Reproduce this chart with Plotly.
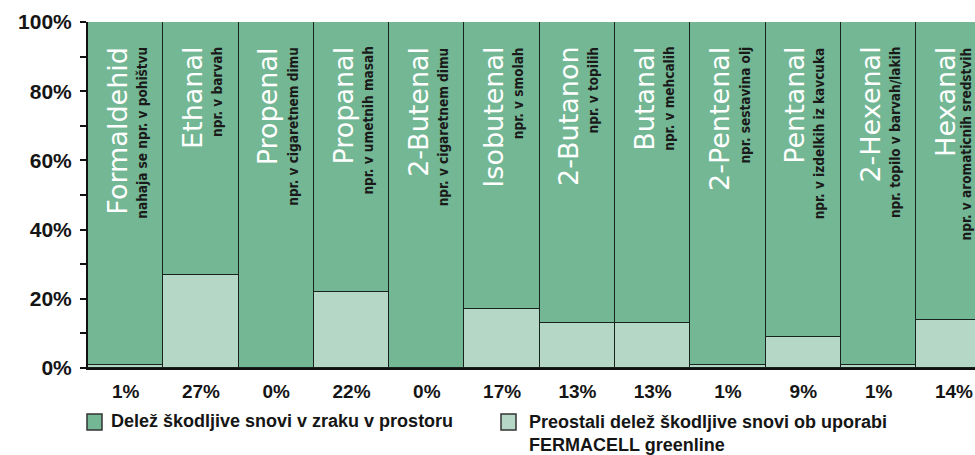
import plotly.graph_objects as go

# ---- data ----
names = ["Formaldehid", "Ethanal", "Propenal", "Propanal", "2-Butenal", "Isobutenal",
         "2-Butanon", "Butanal", "2-Pentenal", "Pentanal", "2-Hexenal", "Hexanal"]
examples = ["nahaja se npr. v pohištvu", "npr. v barvah", "npr. v cigaretnem dimu",
            "npr. v umetnih masah", "npr. v cigaretnem dimu", "npr. v smolah",
            "npr. v topilih", "npr. v mehcalih", "npr. sestavina olj",
            "npr. v izdelkih iz kavcuka", "npr. topilo v barvah/lakih",
            "npr. v aromaticnih sredstvih"]
remaining = [1, 27, 0, 22, 0, 17, 13, 13, 1, 9, 1, 14]
share = [100 - v for v in remaining]
tick_labels = [f"{v}%" for v in remaining]
legend_dark = "Delež škodljive snovi v zraku v prostoru"
legend_light = "Preostali delež škodljive snovi ob uporabi<br>FERMACELL greenline"

DARK = "#73b794"
LIGHT = "#b5d7c6"
EDGE = "#17231c"

W, H = 975, 455
L, R, T, B = 88, 0, 22, 87
PW, PH = W - L - R, H - T - B

def px(x):
    return (x - L) / PW

def py(y):
    return (H - B - y) / PH

xs = list(range(len(names)))

fig = go.Figure()
fig.add_trace(go.Bar(x=xs, y=remaining, marker=dict(color=LIGHT, line=dict(color=EDGE, width=1.5)),
                     name="light", showlegend=False))
fig.add_trace(go.Bar(x=xs, y=share, marker=dict(color=DARK, line=dict(color=EDGE, width=1.5)),
                     name="dark", showlegend=False))

annotations = []
ytop = (H - B - 45) / PH * 100
for i, (n, e) in enumerate(zip(names, examples)):
    annotations.append(dict(x=i, y=ytop, xref="x", yref="y", text=n, textangle=-90,
                            showarrow=False, xanchor="center", yanchor="top", xshift=-9,
                            font=dict(family="DejaVu Sans", size=27, color="white")))
    annotations.append(dict(x=i, y=ytop, xref="x", yref="y", text=e, textangle=-90,
                            showarrow=False, xanchor="center", yanchor="top",
                            xshift=16 if i < len(names) - 1 else 12,
                            font=dict(family="DejaVu Sans Condensed, DejaVu Sans", size=13.5,
                                      color="#1a1a1a", weight="bold")))

LEGFONT = dict(family="Liberation Sans, Arial", size=18, color="#151515", weight="bold")
annotations.append(dict(x=px(109), y=py(421), xref="paper", yref="paper", text=legend_dark,
                        showarrow=False, xanchor="left", yanchor="middle", font=LEGFONT))
annotations.append(dict(x=px(527), y=py(410), xref="paper", yref="paper", text=legend_light,
                        showarrow=False, xanchor="left", yanchor="top", align="left", font=LEGFONT))

shapes = [
    dict(type="rect", xref="paper", yref="paper", x0=px(87), x1=px(102), y0=py(430), y1=py(414),
         fillcolor=DARK, line=dict(color="#333", width=1.5)),
    dict(type="rect", xref="paper", yref="paper", x0=px(501), x1=px(516), y0=py(430), y1=py(414),
         fillcolor=LIGHT, line=dict(color="#333", width=1.5)),
]

fig.update_layout(
    width=W, height=H, margin=dict(l=L, r=R, t=T, b=B),
    barmode="stack", bargap=0,
    plot_bgcolor="white", paper_bgcolor="white",
    annotations=annotations, shapes=shapes,
    xaxis=dict(range=[-0.5, 11.28], tickmode="array", tickvals=xs, ticktext=tick_labels,
               showline=True, linecolor="#111", linewidth=2, ticks="", showgrid=False,
               zeroline=False, ticklabelstandoff=5,
               tickfont=dict(family="Liberation Sans, Arial", size=19, color="#151515", weight="bold")),
    yaxis=dict(range=[0, 100], tickmode="array", tickvals=[0, 20, 40, 60, 80, 100],
               ticktext=["0%", "20%", "40%", "60%", "80%", "100%"],
               showline=True, linecolor="#111", linewidth=2, ticks="outside", ticklen=6,
               tickwidth=2, tickcolor="#111", showgrid=False, zeroline=False,
               minor=dict(tickvals=[10, 30, 50, 70, 90], ticks="outside", ticklen=6,
                          tickwidth=2, tickcolor="#111"),
               ticklabelstandoff=4,
               tickfont=dict(family="Liberation Sans, Arial", size=21, color="#151515", weight="bold")),
)

fig.write_html("out.html", config={"displayModeBar": False},
               post_script="document.body.style.margin='0';document.body.style.padding='0';"
                           "document.body.style.overflow='hidden';")
